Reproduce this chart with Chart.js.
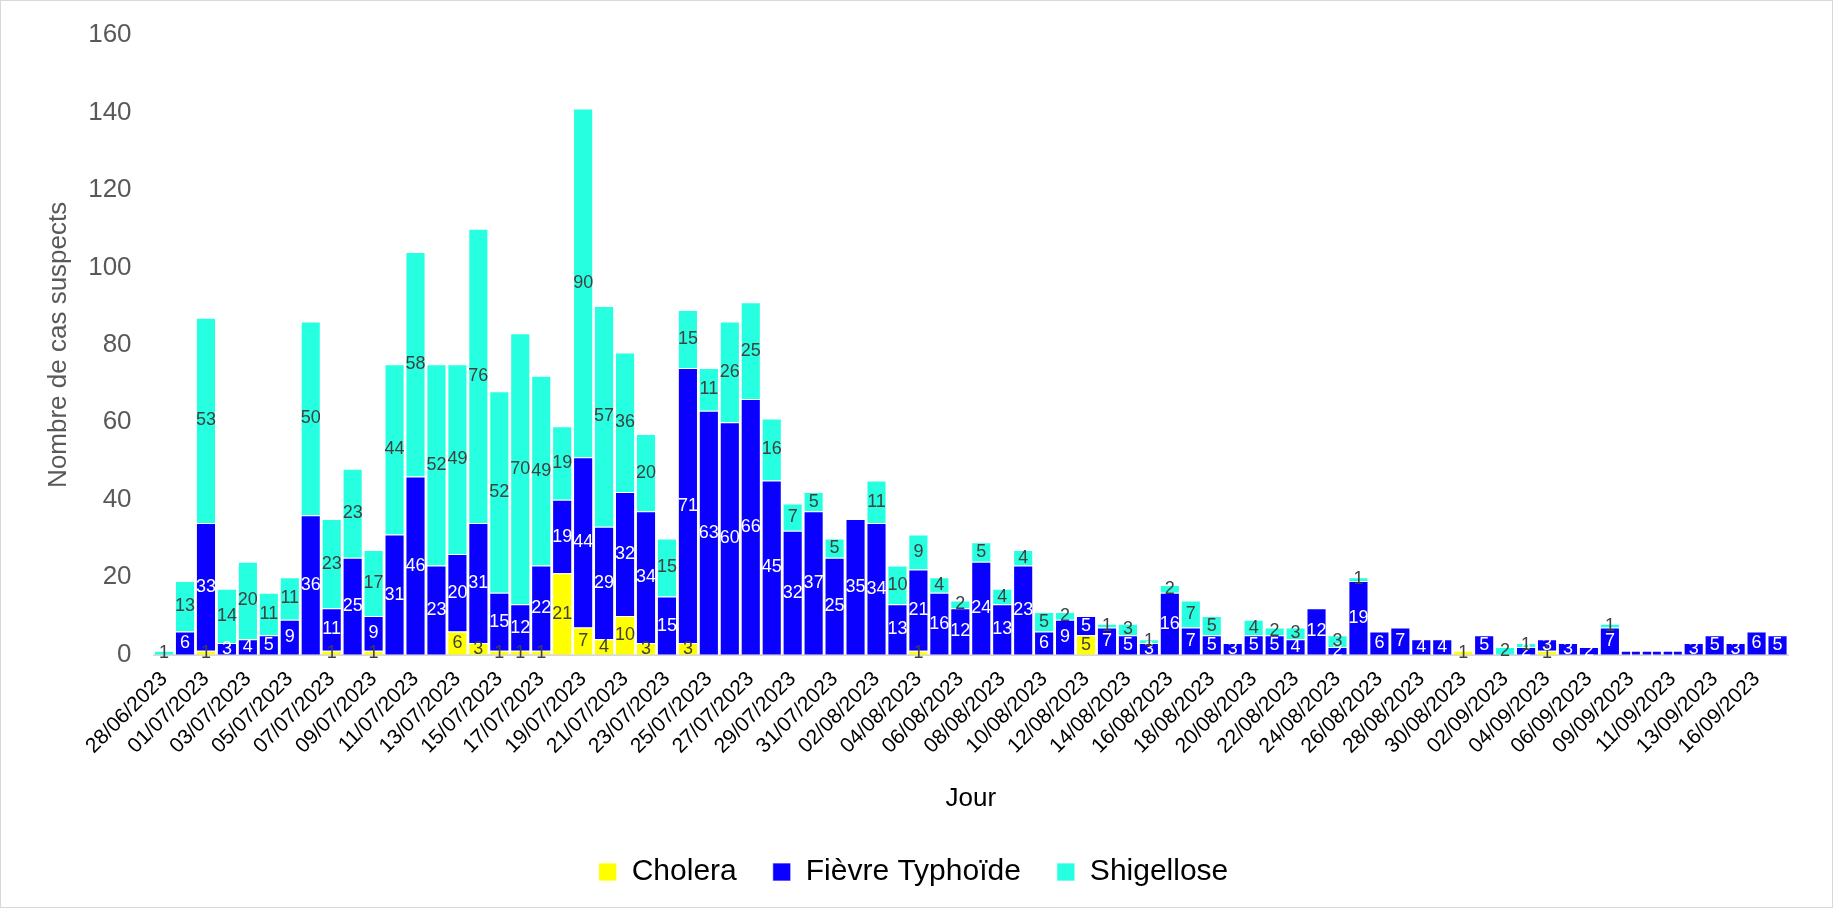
<!DOCTYPE html>
<html lang="fr">
<head>
  <meta charset="UTF-8" />
  <title>Cas suspects par jour</title>
  <script src="https://cdn.jsdelivr.net/npm/chart.js"></script>
  <style>
    html, body { margin: 0; padding: 0; background: #fff; }
    .frame {
      width: 1831px; height: 906px;
      border: 1px solid #d9d9d9;
      position: relative;
    }
  </style>
</head>
<body>
  <div class="frame">
    <canvas id="casChart"></canvas>
  </div>

  <script>
    // jours avec au moins un cas (une date sur deux est affichée)
    const jours = [
      "28/06/2023", "30/06/2023",
      "01/07/2023", "02/07/2023", "03/07/2023", "04/07/2023", "05/07/2023", "06/07/2023", "07/07/2023", "08/07/2023",
      "09/07/2023", "10/07/2023", "11/07/2023", "12/07/2023", "13/07/2023", "14/07/2023", "15/07/2023", "16/07/2023",
      "17/07/2023", "18/07/2023", "19/07/2023", "20/07/2023", "21/07/2023", "22/07/2023", "23/07/2023", "24/07/2023",
      "25/07/2023", "26/07/2023", "27/07/2023", "28/07/2023", "29/07/2023", "30/07/2023", "31/07/2023",
      "01/08/2023", "02/08/2023", "03/08/2023", "04/08/2023", "05/08/2023", "06/08/2023", "07/08/2023", "08/08/2023",
      "09/08/2023", "10/08/2023", "11/08/2023", "12/08/2023", "13/08/2023", "14/08/2023", "15/08/2023", "16/08/2023",
      "17/08/2023", "18/08/2023", "19/08/2023", "20/08/2023", "21/08/2023", "22/08/2023", "23/08/2023", "24/08/2023",
      "25/08/2023", "26/08/2023", "27/08/2023", "28/08/2023", "29/08/2023", "30/08/2023", "31/08/2023",
      "02/09/2023", "03/09/2023", "04/09/2023", "05/09/2023", "06/09/2023", "08/09/2023", "09/09/2023", "10/09/2023",
      "11/09/2023", "12/09/2023", "13/09/2023", "15/09/2023", "16/09/2023", "17/09/2023"
    ];

    const cholera = [
      0, 0, 1, 0, 0, 0, 0, 0, 1, 0,
      1, 0, 0, 0, 6, 3, 1, 1, 1, 21,
      7, 4, 10, 3, 0, 3, 0, 0, 0, 0,
      0, 0, 0, 0, 0, 0, 1, 0, 0, 0,
      0, 0, 0, 0, 5, 0, 0, 0, 0, 0,
      0, 0, 0, 0, 0, 0, 0, 0, 0, 0,
      0, 0, 1, 0, 0, 0, 1, 0, 0, 0,
      0, 0, 0, 0, 0, 0, 0, 0
    ];

    const typhoide = [
      0, 6, 33, 3, 4, 5, 9, 36, 11, 25,
      9, 31, 46, 23, 20, 31, 15, 12, 22, 19,
      44, 29, 32, 34, 15, 71, 63, 60, 66, 45,
      32, 37, 25, 35, 34, 13, 21, 16, 12, 24,
      13, 23, 6, 9, 5, 7, 5, 3, 16, 7,
      5, 3, 5, 5, 4, 12, 2, 19, 6, 7,
      4, 4, 0, 5, 0, 2, 3, 3, 2, 7,
      1, 1, 1, 3, 5, 3, 6, 5
    ];

    const shigellose = [
      1, 13, 53, 14, 20, 11, 11, 50, 23, 23,
      17, 44, 58, 52, 49, 76, 52, 70, 49, 19,
      90, 57, 36, 20, 15, 15, 11, 26, 25, 16,
      7, 5, 5, 0, 11, 10, 9, 4, 2, 5,
      4, 4, 5, 2, 0, 1, 3, 1, 2, 7,
      5, 0, 4, 2, 3, 0, 3, 1, 0, 0,
      0, 0, 0, 0, 2, 1, 0, 0, 0, 1,
      0, 0, 0, 0, 0, 0, 0, 0
    ];

    const FONT = '"Liberation Sans", Arial, sans-serif';
    const labelColors = ["#404040", "#ffffff", "#404040"];

    // étiquettes de valeur au centre de chaque segment
    const barLabels = {
      id: "barLabels",
      afterDatasetsDraw(chart) {
        const ctx = chart.ctx;
        ctx.save();
        ctx.font = "18px " + FONT;
        ctx.textAlign = "center";
        ctx.textBaseline = "middle";
        chart.data.datasets.forEach((ds, i) => {
          const meta = chart.getDatasetMeta(i);
          if (meta.hidden) return;
          meta.data.forEach((bar, j) => {
            const v = ds.data[j];
            if (!v) return;
            ctx.fillStyle = labelColors[i];
            ctx.fillText(String(v), bar.x, (bar.y + bar.base) / 2);
          });
        });
        ctx.restore();
      }
    };

    new Chart(document.getElementById("casChart"), {
      type: "bar",
      data: {
        labels: jours,
        datasets: [
          { label: "Cholera", data: cholera, backgroundColor: "#ffff00" },
          { label: "Fièvre Typhoïde", data: typhoide, backgroundColor: "#0a00ff" },
          { label: "Shigellose", data: shigellose, backgroundColor: "#26ffe0" }
        ]
      },
      options: {
        responsive: true,
        maintainAspectRatio: false,
        animation: false,
        devicePixelRatio: 1,
        datasets: {
          bar: {
            barPercentage: 1,
            categoryPercentage: 0.96,
            borderColor: "rgba(255,255,255,0.7)",
            borderWidth: 1
          }
        },
        layout: { padding: { left: 38, right: 44, top: 34, bottom: 10 } },
        plugins: {
          tooltip: { enabled: false },
          legend: {
            position: "bottom",
            labels: {
              color: "#000",
              font: { family: FONT, size: 30 },
              boxWidth: 18,
              boxHeight: 18,
              padding: 36
            }
          }
        },
        scales: {
          x: {
            stacked: true,
            grid: { display: false, drawTicks: false },
            border: { display: true, color: "#d9d9d9", width: 2 },
            ticks: {
              autoSkip: false,
              maxRotation: 45,
              minRotation: 45,
              color: "#000",
              font: { family: FONT, size: 21 },
              padding: 12,
              callback: (val, idx) => (idx % 2 === 0 ? jours[idx] : "")
            },
            title: {
              display: true,
              text: "Jour",
              color: "#000",
              font: { family: FONT, size: 26 },
              padding: { top: 12, bottom: 7 }
            }
          },
          y: {
            stacked: true,
            min: 0,
            max: 160,
            grid: { display: false },
            border: { display: false },
            ticks: {
              stepSize: 20,
              color: "#595959",
              font: { family: FONT, size: 26 },
              padding: 14
            },
            title: {
              display: true,
              text: "Nombre de cas suspects",
              color: "#595959",
              font: { family: FONT, size: 26 },
              padding: { bottom: 0 }
            }
          }
        }
      },
      plugins: [barLabels]
    });
  </script>
</body>
</html>
